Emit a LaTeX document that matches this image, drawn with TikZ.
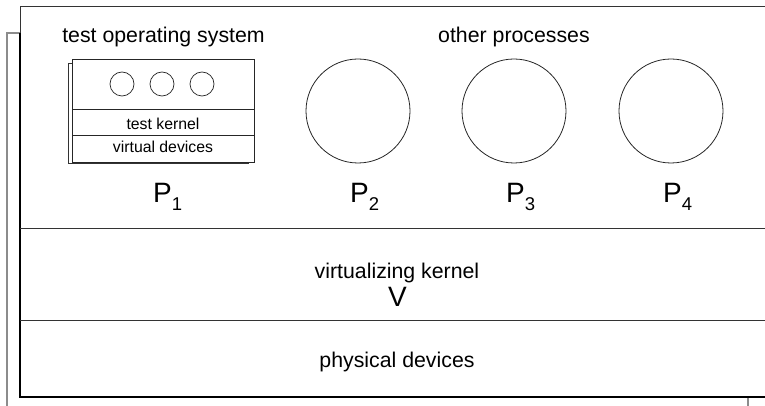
\documentclass[tikz,border=0pt]{standalone}
\usepackage{fontspec}
\setmainfont{Liberation Sans}
\begin{document}
\begin{tikzpicture}[x=1pt,y=-1pt,
  frame/.style={draw=black!80,line width=1pt},
  shadowline/.style={draw=black!45,line width=1.4pt},
  proc/.style={circle,draw=black!85,line width=0.8pt,minimum size=104pt,inner sep=0pt},
  small/.style={circle,draw=black!85,line width=0.7pt,minimum size=24pt,inner sep=0pt},
  big/.style={font=\fontsize{21.3}{24}\selectfont,anchor=base,inner sep=0pt},
  tiny/.style={font=\fontsize{15.8}{18}\selectfont,anchor=base,inner sep=0pt},
  plabel/.style={font=\fontsize{28}{30}\selectfont,anchor=base west,inner sep=0pt}]
\useasboundingbox (0,0) rectangle (765,406);
% shadow of the main frame
\coordinate (s1) at (7,406);
\coordinate (s2) at (7,33);
\coordinate (s3) at (20,33);
\coordinate (s4) at (748,397);
\coordinate (s5) at (748,406);
\draw[shadowline] (s1) -- (s2) -- (s3);
\draw[shadowline] (s4) -- (s5);
% main frame
\coordinate (m1) at (20,7);
\coordinate (m2) at (766,7);
\coordinate (m3) at (20,397);
\coordinate (m4) at (766,397);
\draw[frame] (m2) -- (m1) -- (m3) -- (m4);
\draw[draw=black,line width=1.4pt] (20,33) -- (m3) -- (m4);
\coordinate (l1a) at (20,228);
\coordinate (l1b) at (766,228);
\coordinate (l2a) at (20,320);
\coordinate (l2b) at (766,320);
\draw[frame] (l1a) -- (l1b);
\draw[frame] (l2a) -- (l2b);
% test OS box
\draw[draw=black!80,line width=0.9pt] (68,63) rectangle (248,163);
\draw[draw=black!85,line width=0.8pt,fill=white] (72,59) rectangle (254,162);
\draw[draw=black!85,line width=0.8pt] (72,109) -- (254,109);
\draw[draw=black!85,line width=0.8pt] (72,135) -- (254,135);
\node[small] (c1) at (122,84) {};
\node[small] (c2) at (162,84) {};
\node[small] (c3) at (202,84) {};
\node[tiny] (tk) at (163,130) {test kernel};
\node[tiny] (vd) at (163,153) {virtual devices};
% processes
\node[proc] (p2) at (358,111) {};
\node[proc] (p3) at (514,111) {};
\node[proc] (p4) at (671,111) {};
% labels
\node[big] (tos) at (163.5,43) {test operating system};
\node[big] (op) at (514,43) {other processes};
\newcommand{\psub}[1]{P\raisebox{-9pt}{\fontsize{18.5}{20}\selectfont #1}}
\node[plabel] (P1) at (153,202) {\psub{1}};
\node[plabel] (P2) at (350,202) {\psub{2}};
\node[plabel] (P3) at (506,202) {\psub{3}};
\node[plabel] (P4) at (663,202) {\psub{4}};
\node[big] (vk) at (397,278) {virtualizing kernel};
\node[font=\fontsize{28}{30}\selectfont,anchor=base,inner sep=0pt] (V) at (397.5,306) {V};
\node[big] (pd) at (397,367) {physical devices};
\end{tikzpicture}
\end{document}
